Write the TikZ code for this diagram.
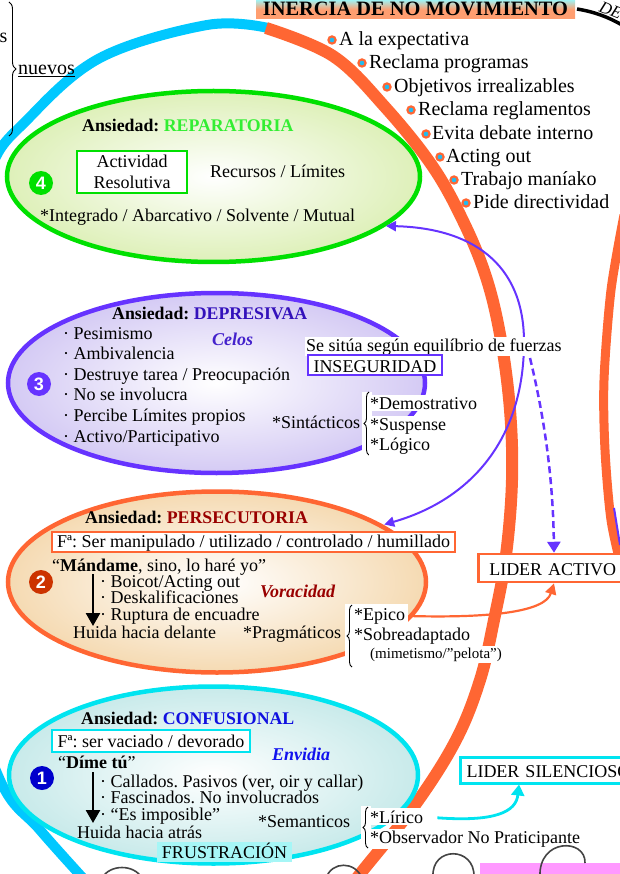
\documentclass[tikz,border=0pt]{standalone}
\usepackage{fontspec}
\setmainfont{Liberation Serif}
\newfontfamily\numfont{Liberation Sans}
\usetikzlibrary{shapes.geometric,arrows.meta,decorations.pathreplacing}
\newcommand{\myfs}[1]{\fontsize{#1}{#1}\selectfont}
\definecolor{bigblue}{HTML}{00C8FF}
\definecolor{orng}{HTML}{FF6633}
\definecolor{grn}{HTML}{00E000}
\definecolor{purp}{HTML}{6633FF}
\definecolor{cyn}{HTML}{00E4F0}
\definecolor{dotblue}{HTML}{22BBEE}
\definecolor{hgreen}{HTML}{33EE33}
\definecolor{hpurp}{HTML}{3311BB}
\definecolor{hred}{HTML}{990000}
\definecolor{hblue}{HTML}{1010E0}
\definecolor{celos}{HTML}{4422CC}
\definecolor{envid}{HTML}{1111EE}
\definecolor{num2}{HTML}{CC3300}
\definecolor{num1}{HTML}{0000CC}
\definecolor{fillg}{RGB}{222,240,185}
\definecolor{fillp}{RGB}{212,202,244}
\definecolor{fillo}{RGB}{245,218,178}
\definecolor{fillc}{RGB}{200,234,234}
\definecolor{tcyan}{HTML}{A0F2F2}
\definecolor{tsalm}{HTML}{FF9E70}
\definecolor{frus}{HTML}{A6F6F6}
\definecolor{pinkb}{HTML}{FF99FF}
\definecolor{loopg}{HTML}{444444}
\begin{document}
\frenchspacing
\begin{tikzpicture}[x=1pt,y=-1pt,
 txt/.style={inner sep=0pt, anchor=base west, font=\myfs{18}},
 wtxt/.style={inner xsep=1pt, inner ysep=2pt, anchor=base west, font=\myfs{18}, fill=white},
 hdr/.style={inner sep=0pt, anchor=base west, font=\bfseries\myfs{17.8}},
 ltxt/.style={inner sep=0pt, anchor=base west, font=\myfs{20}},
 emo/.style={inner sep=0pt, anchor=base west, font=\bfseries\itshape\myfs{18}},
 numc/.style={circle, minimum size=24pt, inner sep=0pt, text=white, font=\numfont\bfseries\myfs{18}},
 bdot/.style={circle, fill=orng, minimum size=9.5pt, inner sep=0pt, path picture={\fill[dotblue] (path picture bounding box.center) circle (2.3pt);}},
 ell/.style={ellipse, line width=4.5pt, inner sep=0pt, inner color=white},
 fbox/.style={line width=2.5pt, fill=white, inner sep=0pt, font=\myfs{18}},
 bigarrow/.style={line width=2.6pt, -{Triangle[width=14pt,length=13pt]}},
 mybrace/.style={line width=0.9pt, decorate, decoration={brace, amplitude=5pt}}]
\useasboundingbox (0,0) rectangle (619,874);

% big outer curve
\draw[bigblue, line width=10pt] plot[smooth, tension=0.6] coordinates {(92,888) (40,830) (0,780) (-40,650) (-55,450) (-42,290) (-10,170) (27,120) (100,58) (207,25) (268,28)};
\draw[orng, line width=12pt] plot[smooth, tension=0.6] coordinates {(266,28) (333,56) (385,107) (433,167) (465,225) (487,280) (501,340) (510,410) (512,480) (506,555) (494,620) (480,680) (456,740) (415,805) (360,874) (350,888)};
\draw[orng, line width=9pt] plot[smooth] coordinates {(624,215) (611,290) (604,380) (605,450) (611,520) (622,570)};
\draw[purp, line width=2pt] (614,508) -- (620,545);

% top
\draw[line width=3.5pt] (577,9) .. controls (595,12) and (608,17) .. (622,25);
\node[inner sep=0pt, anchor=base west, rotate=-22, font=\itshape\myfs{17}] (de) at (598,11) {DE};
\node[inner sep=0pt, minimum width=319pt, minimum height=19pt, top color=tcyan, bottom color=tsalm, middle color=tsalm, text height=13pt, text depth=0pt, font=\bfseries\myfs{20.4}] (title) at (415.5,9.5) {INERCIA DE NO MOVIMIENTO};

\node[inner sep=0pt, anchor=base east, font=\myfs{20}] (s) at (7.5,43) {s};
\node[inner sep=0pt, anchor=base west, font=\myfs{20}] (nuevos) at (18,75) {\underline{nuevos}};
\draw[line width=0.9pt, decorate, decoration={brace, amplitude=7pt}] (9,2) -- (9,136);

% list
\node[bdot] (d1) at (332,40) {};  \node[ltxt] (l1) at (339,46) {A la expectativa};
\node[bdot] (d2) at (362,63) {};  \node[ltxt] (l2) at (369,69) {Reclama programas};
\node[bdot] (d3) at (387,87) {};  \node[ltxt] (l3) at (394,93) {Objetivos irrealizables};
\node[bdot] (d4) at (411,110) {}; \node[ltxt] (l4) at (418,116) {Reclama reglamentos};
\node[bdot] (d5) at (426,134) {}; \node[ltxt] (l5) at (432,140) {Evita debate interno};
\node[bdot] (d6) at (440,157) {}; \node[ltxt] (l6) at (446,163) {Acting out};
\node[bdot] (d7) at (454,180) {}; \node[ltxt] (l7) at (461,186) {Trabajo maníako};
\node[bdot] (d8) at (466,203) {}; \node[ltxt] (l8) at (473,209) {Pide directividad};

% ellipses
\node[ell, draw=grn, outer color=fillg, minimum width=413pt, minimum height=171pt] (e4) at (213.5,176.5) {};
\node[ell, draw=purp, outer color=fillp, minimum width=417pt, minimum height=180pt] (e3) at (216.5,383) {};
\node[ell, draw=orng, outer color=fillo, minimum width=418pt, minimum height=181pt] (e2) at (217,582) {};
\node[ell, draw=cyn, outer color=fillc, minimum width=409pt, minimum height=177pt] (e1) at (213.5,775) {};

% ellipse 4
\node[numc, fill=grn] (n4) at (41,183) {4};
\node[hdr] (h4) at (82,132) {Ansiedad: \textcolor{hgreen}{REPARATORIA}};
\node[fbox, draw=grn, minimum width=110pt, minimum height=42pt, align=center, font=\fontsize{18}{21}\selectfont] (act) at (132,172) {Actividad\\Resolutiva};
\node[txt] (rec) at (210,178) {Recursos / Límites};
\node[txt] (integ) at (40,222) {*Integrado / Abarcativo / Solvente / Mutual};

% ellipse 3
\node[numc, fill=purp] (n3) at (39,384) {3};
\node[hdr] (h3) at (112,319) {Ansiedad: \textcolor{hpurp}{DEPRESIVAA}};
\node[txt] (p1) at (63,339) {· Pesimismo};
\node[txt] (p2) at (63,359) {· Ambivalencia};
\node[txt] (p3) at (63,380) {· Destruye tarea / Preocupación};
\node[txt] (p4) at (63,400) {· No se involucra};
\node[txt] (p5) at (63,421) {· Percibe Límites propios};
\node[txt] (p6) at (63,442) {· Activo/Participativo};
\node[emo, text=celos] (celos) at (212,345) {Celos};
\node[txt] (sint) at (272,428) {*Sintácticos};

% ellipse 2
\node[numc, fill=num2] (n2) at (41,582) {2};
\node[hdr] (h2) at (85,523) {Ansiedad: \textcolor{hred}{PERSECUTORIA}};
\node[fbox, draw=orng, minimum width=403pt, minimum height=20pt, text height=13pt, text depth=3pt] (f2) at (253.5,542) {Fª: Ser manipulado / utilizado / controlado / humillado};
\node[txt] (mand) at (52,571) {“\textbf{Mándame}, sino, lo haré yo”};
\node[txt] (q1) at (100,587) {· Boicot/Acting out};
\node[txt] (q2) at (100,603) {· Deskalificaciones};
\node[txt] (q3) at (100,620) {· Ruptura de encuadre};
\node[txt] (hd2) at (73,638) {Huida hacia delante};
\node[emo, text=hred] (vor) at (260,597) {Voracidad};
\node[txt] (prag) at (243,638) {*Pragmáticos};
\coordinate (a2s) at (93,574);
\coordinate (a2e) at (93,626);
\draw[bigarrow] (a2s) -- (a2e);

% ellipse 1
\node[numc, fill=num1] (n1) at (42,778) {1};
\node[hdr] (h1) at (81,724) {Ansiedad: \textcolor{hblue}{CONFUSIONAL}};
\node[fbox, draw=cyn, minimum width=198pt, minimum height=22pt, text height=13pt, text depth=1pt] (f1) at (151,741) {Fª: ser vaciado / devorado};
\node[txt] (dime) at (58,768) {“\textbf{Díme tú}”};
\node[emo, text=envid] (env) at (272,760) {Envidia};
\node[txt] (c1) at (100,787) {· Callados. Pasivos (ver, oir y callar)};
\node[txt] (c2) at (100,803) {· Fascinados. No involucrados};
\node[txt] (c3) at (100,820) {· “Es imposible”};
\node[txt] (hd1) at (77,838) {Huida hacia atrás};
\node[txt] (sem) at (258,827) {*Semanticos};
\node[fill=frus, inner sep=0pt, minimum width=135pt, minimum height=20pt, text height=12pt, text depth=0pt, font=\myfs{18}] (frus) at (224.5,852) {FRUSTRACIÓN};
\coordinate (a1s) at (93,772);
\coordinate (a1e) at (93,823);
\draw[bigarrow] (a1s) -- (a1e);

% purple double arrow
\draw[purp, line width=2pt, {Triangle[width=10pt,length=10pt]}-{Triangle[width=10pt,length=10pt]}, shorten >=1pt] (e4.-16) .. controls (470,228) and (524,262) .. (524,342) .. controls (524,440) and (470,500) .. (e2.19);

% middle texts
\node[wtxt, inner sep=1pt] (fz) at (305,351) {Se sitúa según equilíbrio de fuerzas};
\node[fbox, draw=purp, minimum width=134pt, minimum height=20pt, text height=14pt, text depth=0pt] (inseg) at (375,365) {INSEGURIDAD};

% sintacticos group
\fill[white] (362,392) rectangle (372,457);
\draw[mybrace] (369,455) -- (369,392);
\node[wtxt] (dem) at (369,409) {*Demostrativo};
\node[wtxt] (sus) at (369,430) {*Suspense};
\node[wtxt] (log) at (369,450) {*Lógico};

% pragmaticos group
\fill[white] (345,604) rectangle (408,668);
\draw[mybrace] (352,667) -- (352,605);
\node[wtxt] (ep) at (353,620) {*Epico};
\node[wtxt] (sob) at (353,640) {*Sobreadaptado};
\node[wtxt, font=\myfs{15}] (mim) at (369,658) {(mimetismo/”pelota”)};

% semanticos group
\fill[white] (361,806) rectangle (371,850);
\draw[mybrace] (368,848) -- (368,807);
\node[wtxt] (lir) at (369,823) {*Lírico};
\node[wtxt] (obs) at (369,843) {*Observador No Praticipante};

% leader boxes
\node[draw=orng, line width=2.5pt, fill=white, anchor=west, minimum height=28pt, text width=160pt, inner xsep=11pt, inner ysep=0pt, text height=14pt, text depth=0pt, font=\myfs{18}] (la) at (477,568) {LIDER ACTIVO};
\node[draw=cyn, line width=3pt, fill=white, anchor=west, minimum height=26pt, text width=180pt, inner xsep=6pt, inner ysep=0pt, text height=14pt, text depth=0pt, font=\myfs{18}] (ls) at (459,770) {LIDER SILENCIOSO};

% arrows to leaders
\coordinate (dst) at (530,358);
\draw[purp, line width=2.5pt, dash pattern=on 7pt off 4pt, -{Triangle[width=13pt,length=11pt]}] (dst) .. controls (545,420) and (553,480) .. ([xshift=77pt]la.north west);
\draw[orng, line width=2.2pt, -{Triangle[width=11pt,length=11pt]}, shorten <=5pt] (ep.east) .. controls (490,618) and (545,612) .. ([xshift=77pt]la.south west);
\draw[cyn, line width=2.8pt, -{Triangle[width=13pt,length=11pt]}, shorten <=13pt] (lir.east) .. controls (495,822) and (516,812) .. ([xshift=60pt]ls.south west);

% bottom
\fill[pinkb] (480,863) rectangle (625,880);
\draw[loopg, line width=1.6pt] (433,877) .. controls (431,846) and (475,846) .. (474,877);
\draw[loopg, line width=1.6pt] (540,877) .. controls (538,838) and (586,838) .. (585,863);
\draw[loopg, line width=1.6pt] (326,878) .. controls (332,861) and (355,861) .. (362,878);
\draw[loopg, line width=1.6pt] (102,878) .. controls (110,864) and (134,864) .. (142,878);
\end{tikzpicture}
\end{document}
